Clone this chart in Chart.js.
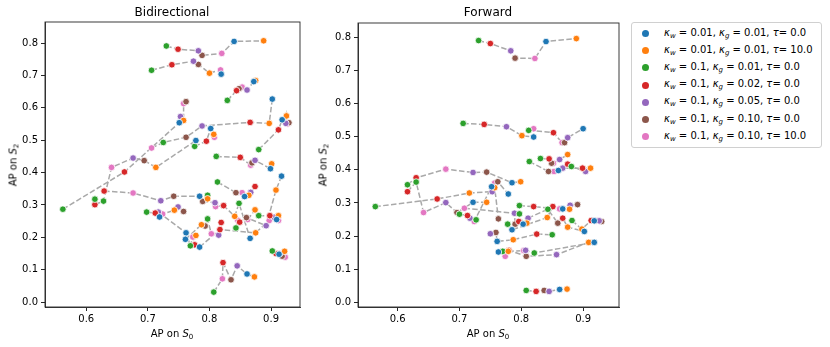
<!DOCTYPE html>
<html>
<head>
<meta charset="utf-8">
<script src="https://cdn.jsdelivr.net/npm/chart.js@4"></script>
<style>
  body { margin: 0; background: #fff; font-family: "DejaVu Sans", sans-serif; color: #000; }
  #wrap { position: relative; width: 830px; height: 347px; overflow: hidden; }
  canvas { position: absolute; top: 0; }
  .txt { position: absolute; white-space: nowrap; font-size: 10px; }
  .title { font-size: 12px; transform: translate(-50%, -50%); }
  .xlab { transform: translate(-50%, -50%); }
  .ylab { transform: translate(-50%, -50%) rotate(-90deg); }
  .sub { font-size: 7px; position: relative; top: 2px; }
  #legend { position: absolute; left: 631px; top: 22px; width: 191px; height: 126px;
            border: 1px solid #d0d0d0; border-radius: 3px; box-sizing: border-box; }
  .item { position: absolute; left: 0; font-size: 10px; white-space: nowrap; }
  .dot { position: absolute; width: 7px; height: 7px; border-radius: 50%; left: 10px; top: -3.5px; }
  .lab { position: absolute; left: 32px; top: -7px; }
</style>
</head>
<body>
<div id="wrap">
  <canvas id="bidir" width="310" height="347" style="left:0px"></canvas>
  <canvas id="fwd" width="315" height="347" style="left:310px"></canvas>
  <div class="txt title" style="left:172px; top:12px">Bidirectional</div>
  <div class="txt title" style="left:488px; top:12px">Forward</div>
  <div class="txt xlab" style="left:172px; top:333px">AP on <i>S</i><span class="sub">0</span></div>
  <div class="txt xlab" style="left:488px; top:333px">AP on <i>S</i><span class="sub">0</span></div>
  <div class="txt ylab" style="left:13px; top:165px">AP on <i>S</i><span class="sub">2</span></div>
  <div class="txt ylab" style="left:323px; top:165px">AP on <i>S</i><span class="sub">2</span></div>
  <div id="legend"></div>
</div>
<script>
// configs, in hue order
const kappaW = ['0.01', '0.01', '0.1', '0.1', '0.1', '0.1', '0.1'];
const kappaG = ['0.01', '0.01', '0.01', '0.02', '0.05', '0.10', '0.10'];
const tau = ['0.0', '10.0', '0.0', '0.0', '0.0', '0.0', '10.0'];
const colors = ['#1f77b4', '#ff7f0e', '#2ca02c', '#d62728', '#9467bd', '#8c564b', '#e377c2'];

const xTicks = [0.6, 0.7, 0.8, 0.9];
const yTicks = [0.0, 0.1, 0.2, 0.3, 0.4, 0.5, 0.6, 0.7, 0.8];

// each run: one [AP S0, AP S2] per config (blue, orange, green, red, purple, brown, pink)
const bidirRuns = [
  [[.840,.805],[.888,.807],[.730,.791],[.749,.781],[.782,.776],[.788,.762],[.820,.768]],
  [[.819,.704],[.800,.707],[.706,.716],[.739,.733],[.774,.744],[.782,.734],[.818,.717]],
  [[.872,.681],[.875,.684],[.829,.623],[.844,.653],[.861,.655],[.848,.659],[.853,.664]],
  [[.902,.627],[.897,.552],[.725,.493],[.866,.555],[.788,.544],[.762,.509],[.706,.476]],
  [[.751,.554],[.758,.561],[.562,.287],[.662,.402],[.753,.573],[.762,.619],[.758,.613]],
  [[.778,.499],[.713,.416],[.628,.312],[.614,.301],[.676,.445],[.694,.437],[.641,.416]],
  [[.784,.327],[.797,.319],[.797,.330],[.629,.343],[.721,.313],[.742,.327],[.676,.337]],
  [[.802,.536],[.807,.518],[.776,.481],[.795,.497],null,null,[.808,.509]],
  [[.899,.412],[.901,.427],[.811,.450],[.850,.447],[.874,.438],[.869,.430],[.867,.423]],
  [[.918,.563],[.925,.575],[.880,.471],[.912,.532],[.924,.552],[.929,.554],[.927,.550]],
  [[.857,.326],[.864,.330],[.813,.371],[.874,.357],[.867,.339],[.843,.338],[.853,.338]],
  [[.917,.389],[.908,.346],[.843,.229],[.849,.247],[.892,.236],[.860,.261],[.846,.253]],
  [[.861,.087],[.873,.078],[.807,.031],[.822,.122],[.845,.112],[.835,.069],[.821,.072]],
  [[.719,.263],[.743,.284],[.698,.278],[.712,.275],[.749,.294],[.758,.280],[.724,.272]],
  [[.762,.214],[.778,.206],[.769,.174],[.776,.177],[.717,.278],null,[.773,.201]],
  [[.761,.194],[.787,.239],[.797,.257],[.819,.246],[.815,.207],[.793,.235],[.803,.211]],
  [[.866,.197],[.841,.265],[.848,.305],[.823,.298],[.809,.307],[.789,.311],[.810,.295]],
  [[.909,.255],[.912,.267],[.880,.267],[.898,.267],[.905,.262],null,[.912,.252]],
  [[.913,.148],[.922,.157],[.902,.158],[.908,.150],[.914,.150],[.918,.142],[.923,.139]],
  [[.784,.170],[.875,.214],null,[.817,.224],null,null,[.897,.252]],
  [null,null,[.614,.318],null,null,null,null],
  [null,[.874,.285],null,null,null,null,[.862,.255]]
];

const forwardRuns = [
  [[.840,.787],[.889,.796],[.731,.790],[.750,.781],[.783,.759],[.790,.737],[.822,.736]],
  [[.820,.499],[.801,.503],[.706,.540],[.740,.537],[.776,.530],null,[.820,.524]],
  [[.900,.524],null,[.812,.519],[.852,.512],[.875,.497],[.870,.482],[.866,.482]],
  [[.860,.398],[.912,.405],[.813,.425],[.899,.405],[.867,.405],[.844,.395],[.853,.395]],
  [null,[.875,.446],[.831,.434],[.845,.433],[.862,.431],[.849,.420],[.852,.420]],
  [null,null,[.881,.410],[.875,.417],[.904,.395],null,null],
  [[.785,.361],[.799,.364],[.616,.355],[.630,.376],[.722,.392],[.744,.393],[.678,.402]],
  [[.779,.327],[.716,.330],[.564,.289],[.664,.312],[.753,.334],[.762,.364],[.757,.360]],
  [[.722,.302],[.744,.302],[.630,.363],[.616,.334],[.678,.301],[.696,.271],[.642,.271]],
  [[.752,.349],[.757,.346],[.700,.266],[.713,.262],[.717,.254],[.763,.252],[.724,.244]],
  [[.867,.282],[.878,.281],[.797,.292],[.820,.289],[.879,.293],[.891,.295],[.862,.282]],
  [[.803,.236],[.809,.239],[.797,.267],[.796,.244],[.789,.269],[.790,.236],[.708,.284]],
  [[.761,.184],[.787,.189],[.850,.204],[.825,.206],[.750,.207],[.759,.211],null],
  [[.763,.152],[.909,.181],[.770,.154],[.780,.157],[.857,.144],[.808,.139],[.774,.139]],
  [[.918,.181],[.779,.154],[.821,.149],null,[.807,.157],null,[.804,.156]],
  [[.862,.039],[.874,.040],[.808,.036],[.824,.033],[.845,.033],[.837,.036],null],
  [[.918,.246],[.898,.221],[.882,.247],[.913,.247],[.926,.246],[.930,.244],[.921,.246]],
  [[.902,.214],[.875,.227],[.843,.281],[.867,.254],[.811,.254],[.859,.239],null],
  [[.785,.219],[.842,.256],[.778,.236],[.851,.289],null,null,null],
  [null,null,[.727,.249],null,null,null,null]
];

// legend
const legend = document.getElementById('legend');
colors.forEach((col, i) => {
  const item = document.createElement('div');
  item.className = 'item';
  item.style.top = (10.5 + i * 17.2) + 'px';
  item.innerHTML = '<span class="dot" style="background:' + col + '"></span>' +
    '<span class="lab"><i>κ</i><span class="sub"><i>w</i></span> = ' + kappaW[i] +
    ', <i>κ</i><span class="sub"><i>g</i></span> = ' + kappaG[i] +
    ', <i>τ</i>= ' + tau[i] + '</span>';
  legend.appendChild(item);
});

function buildDatasets(runs) {
  var ds = [];
  runs.forEach(run => {
    var pts = run.filter(p => p).map(p => ({ x: p[0], y: p[1] })).sort((a, b) => a.x - b.x);
    ds.push({
      data: pts, showLine: true, pointRadius: 0, borderColor: '#a9a9a9',
      borderWidth: 1.5, borderDash: [5.5, 2.4], tension: 0, order: 2
    });
  });
  colors.forEach((col, c) => {
    ds.push({
      data: runs.filter(r => r[c]).map(r => ({ x: r[c][0], y: r[c][1] })),
      backgroundColor: col, borderColor: '#ffffff', borderWidth: 0.8,
      pointRadius: 3.3, order: 1
    });
  });
  return ds;
}

const frame = {
  id: 'frame',
  afterDraw(chart) {
    const a = chart.chartArea, ctx = chart.ctx;
    ctx.save();
    ctx.strokeStyle = '#262626';
    ctx.lineWidth = 0.9;
    ctx.strokeRect(a.left, a.top, a.right - a.left, a.bottom - a.top);
    ctx.restore();
  }
};

function makeChart(id, runs, xr, yr, yWidth, pad) {
  new Chart(document.getElementById(id), {
    type: 'scatter',
    data: { datasets: buildDatasets(runs) },
    options: {
      responsive: false, animation: false, events: [],
      layout: { padding: pad },
      plugins: { legend: { display: false }, tooltip: { enabled: false } },
      scales: {
        x: {
          min: xr[0], max: xr[1],
          afterFit: s => { s.height = 40; },
          afterBuildTicks: s => { s.ticks = xTicks.map(v => ({ value: v })); },
          grid: { drawOnChartArea: false, drawTicks: true, tickLength: 4, color: '#262626' },
          border: { color: '#262626', width: 0.9 },
          ticks: { color: '#000', padding: 2, font: { family: 'DejaVu Sans', size: 10 },
                   callback: v => v.toFixed(1), maxRotation: 0 }
        },
        y: {
          min: yr[0], max: yr[1],
          afterFit: s => { s.width = yWidth; },
          afterBuildTicks: s => { s.ticks = yTicks.map(v => ({ value: v })); },
          grid: { drawOnChartArea: false, drawTicks: true, tickLength: 4, color: '#262626' },
          border: { color: '#262626', width: 0.9 },
          ticks: { color: '#000', padding: 3, font: { family: 'DejaVu Sans', size: 10 },
                   callback: v => v.toFixed(1) }
        }
      }
    },
    plugins: [frame]
  });
}

makeChart('bidir', bidirRuns, [0.533, 0.947], [-0.015, 0.865], 45, { left: 0, right: 10, top: 22, bottom: 0 });
makeChart('fwd', forwardRuns, [0.536, 0.958], [-0.014, 0.843], 48, { left: 0, right: 6, top: 23, bottom: 0 });
</script>
</body>
</html>
